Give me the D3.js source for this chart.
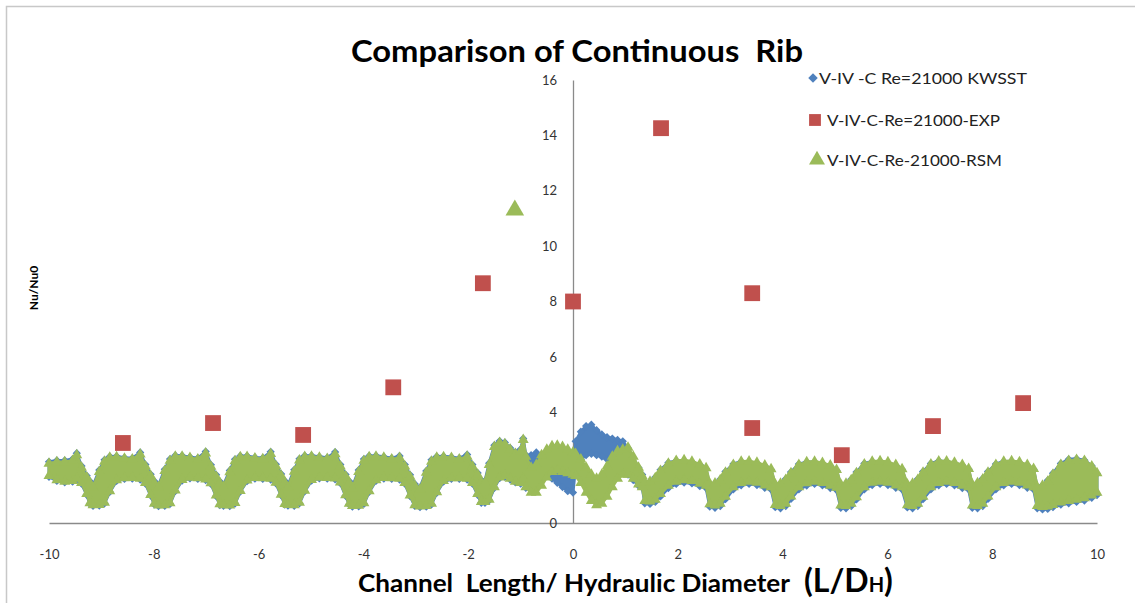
<!DOCTYPE html>
<html>
<head>
<meta charset="utf-8">
<script src="https://cdn.jsdelivr.net/npm/d3@7"></script>
<style>
  html, body { margin: 0; padding: 0; background: #ffffff; }
  svg { display: block; }
  text { white-space: pre; }
</style>
</head>
<body>
<svg id="chart" width="1135" height="603"></svg>
<script>
// ---------------- DATA ----------------
const titleText = "Comparison of Continuous  Rib";
const xTitleMain = "Channel  Length/ Hydraulic Diameter";
const yTitleText = "Nu/Nu0";
const xTicks = [-10, -8, -6, -4, -2, 0, 2, 4, 6, 8, 10];
const yTicks = [0, 2, 4, 6, 8, 10, 12, 14, 16];
const seriesNames = ["V-IV -C Re=21000 KWSST", "V-IV-C-Re=21000-EXP", "V-IV-C-Re-21000-RSM"];

// Experimental points (EXP)
const expX = [-8.59, -6.87, -5.15, -3.43, -1.72, 0.0, 1.68, 3.42, 3.42, 5.13, 6.87, 8.59];
const expY = [2.89, 3.61, 3.18, 4.90, 8.66, 8.00, 14.26, 8.30, 3.43, 2.45, 3.50, 4.33];

// RSM isolated point
const rsmExtraX = [-1.11];
const rsmExtraY = [11.30];

// CFD profiles (shared x positions); each CFD series is a band of points (lower / upper)
const cfdX = [
  -10.00, -9.85, -9.70, -9.55, -9.47, -9.38, -9.28, -9.22,
  -9.16, -9.04, -8.94, -8.84, -8.71, -8.56, -8.41, -8.26, -8.16, -8.06, -7.99,
  -7.91, -7.79, -7.69, -7.59, -7.46, -7.31, -7.16, -7.01, -6.91, -6.81, -6.74,
  -6.67, -6.55, -6.45, -6.35, -6.22, -6.07, -5.92, -5.77, -5.67, -5.57, -5.50,
  -5.44, -5.32, -5.22, -5.12, -4.99, -4.84, -4.69, -4.54, -4.44, -4.34, -4.27,
  -4.21, -4.09, -3.99, -3.89, -3.76, -3.61, -3.46, -3.31, -3.21, -3.11, -3.02,
  -2.92, -2.80, -2.70, -2.60, -2.47, -2.32, -2.17, -2.02, -1.92, -1.82, -1.75,
  -1.68, -1.60, -1.50, -1.40, -1.30, -1.20, -1.10, -1.00, -0.95, -0.90, -0.80, -0.70, -0.60, -0.50, -0.40, -0.30, -0.20, -0.10, 0.00,
  0.05, 0.15, 0.25, 0.35, 0.45, 0.55, 0.65, 0.75, 0.85, 0.95, 1.05, 1.15, 1.25, 1.32,
  1.37, 1.47, 1.57, 1.67, 1.82, 1.97, 2.12, 2.27, 2.42, 2.54,
  2.61, 2.71, 2.81, 2.91, 3.06, 3.21, 3.36, 3.51, 3.66, 3.78,
  3.86, 3.96, 4.06, 4.16, 4.31, 4.46, 4.61, 4.76, 4.91, 5.03,
  5.11, 5.21, 5.31, 5.41, 5.56, 5.71, 5.86, 6.01, 6.16, 6.28,
  6.38, 6.48, 6.58, 6.68, 6.83, 6.98, 7.13, 7.28, 7.43, 7.55,
  7.62, 7.72, 7.82, 7.92, 8.07, 8.22, 8.37, 8.52, 8.67, 8.79,
  8.86, 8.96, 9.06, 9.16, 9.31, 9.46, 9.61, 9.76, 9.90, 10.00
];

const rsmLo = [
  1.70, 1.55, 1.50, 1.52, 1.60, 1.45, 1.05, 0.72,
  0.65, 0.66, 0.74, 1.15, 1.55, 1.62, 1.63, 1.60, 1.45, 1.02, 0.70,
  0.64, 0.65, 0.72, 1.18, 1.56, 1.64, 1.62, 1.58, 1.44, 1.00, 0.68,
  0.65, 0.64, 0.73, 1.16, 1.54, 1.63, 1.62, 1.60, 1.46, 1.03, 0.69,
  0.66, 0.65, 0.74, 1.17, 1.56, 1.64, 1.63, 1.61, 1.47, 1.01, 0.70,
  0.62, 0.63, 0.72, 1.15, 1.55, 1.63, 1.62, 1.60, 1.45, 1.00, 0.65,
  0.60, 0.62, 0.70, 1.12, 1.52, 1.62, 1.62, 1.60, 1.45, 1.05, 0.76,
  0.76, 0.85, 1.30, 1.65, 1.70, 1.60, 1.50, 1.45, 1.60, 1.30, 1.10, 1.10, 1.35, 1.65, 1.85, 1.90, 1.85, 1.80, 1.75,
  1.70, 1.45, 1.10, 0.80, 0.65, 0.70, 0.95, 1.30, 1.60, 1.75, 1.75, 1.60, 1.40, 1.30,
  0.80, 0.78, 0.85, 1.05, 1.35, 1.50, 1.55, 1.52, 1.42, 1.35,
  0.68, 0.64, 0.70, 0.95, 1.30, 1.45, 1.50, 1.46, 1.36, 1.30,
  0.66, 0.62, 0.70, 0.96, 1.30, 1.44, 1.50, 1.45, 1.35, 1.28,
  0.64, 0.62, 0.70, 0.94, 1.30, 1.46, 1.50, 1.46, 1.36, 1.30,
  0.65, 0.62, 0.70, 0.95, 1.30, 1.45, 1.50, 1.45, 1.35, 1.30,
  0.64, 0.62, 0.70, 0.96, 1.30, 1.45, 1.50, 1.46, 1.36, 1.30,
  0.62, 0.58, 0.60, 0.66, 0.75, 0.80, 0.85, 0.90, 1.00, 1.10
];
const rsmHi = [
  2.15, 2.20, 2.20, 2.25, 2.45, 2.00, 1.65, 1.45,
  1.28, 1.85, 2.22, 2.36, 2.38, 2.33, 2.30, 2.48, 2.05, 1.70, 1.45,
  1.30, 1.88, 2.25, 2.40, 2.40, 2.35, 2.30, 2.52, 2.04, 1.68, 1.44,
  1.31, 1.84, 2.24, 2.38, 2.39, 2.34, 2.31, 2.50, 2.06, 1.71, 1.46,
  1.29, 1.86, 2.26, 2.39, 2.40, 2.36, 2.32, 2.49, 2.05, 1.69, 1.45,
  1.25, 1.85, 2.25, 2.38, 2.40, 2.36, 2.30, 2.35, 2.05, 1.68, 1.35,
  1.22, 1.82, 2.22, 2.36, 2.38, 2.35, 2.30, 2.40, 2.05, 1.75, 1.48,
  1.45, 2.10, 2.75, 2.90, 2.85, 2.65, 2.50, 2.60, 3.00, 2.40, 2.00, 2.10, 2.45, 2.65, 2.78, 2.80, 2.75, 2.65, 2.55,
  2.50, 2.30, 2.00, 1.75, 1.60, 1.75, 2.05, 2.40, 2.60, 2.65, 2.72, 2.40, 2.00, 1.70,
  1.48, 1.50, 1.62, 1.88, 2.15, 2.25, 2.27, 2.22, 2.12, 1.98,
  1.42, 1.43, 1.55, 1.82, 2.10, 2.22, 2.23, 2.18, 2.08, 1.95,
  1.40, 1.42, 1.56, 1.80, 2.10, 2.20, 2.22, 2.17, 2.08, 1.92,
  1.40, 1.42, 1.55, 1.80, 2.12, 2.22, 2.24, 2.20, 2.10, 1.95,
  1.40, 1.42, 1.56, 1.82, 2.12, 2.23, 2.23, 2.18, 2.10, 1.96,
  1.40, 1.44, 1.58, 1.82, 2.10, 2.22, 2.24, 2.20, 2.10, 1.96,
  1.30, 1.35, 1.50, 1.75, 2.10, 2.25, 2.28, 2.25, 2.05, 1.80
];

const kwLo = [
  1.67, 1.52, 1.47, 1.49, 1.57, 1.42, 1.02, 0.69,
  0.62, 0.63, 0.71, 1.12, 1.52, 1.59, 1.60, 1.57, 1.42, 0.99, 0.67,
  0.61, 0.62, 0.69, 1.15, 1.53, 1.61, 1.59, 1.55, 1.41, 0.97, 0.65,
  0.62, 0.61, 0.70, 1.13, 1.51, 1.60, 1.59, 1.57, 1.43, 1.00, 0.66,
  0.63, 0.62, 0.71, 1.14, 1.53, 1.61, 1.60, 1.58, 1.44, 0.98, 0.67,
  0.59, 0.60, 0.69, 1.12, 1.52, 1.60, 1.59, 1.57, 1.42, 0.97, 0.62,
  0.57, 0.59, 0.67, 1.09, 1.49, 1.59, 1.59, 1.57, 1.42, 1.02, 0.73,
  0.73, 0.82, 1.27, 1.62, 1.67, 1.57, 1.47, 1.42, 1.57, 1.27, 1.90, 2.00, 1.85, 1.70, 1.60, 1.45, 1.30, 1.15, 1.10,
  2.05, 2.30, 2.45, 2.50, 2.45, 2.40, 2.30, 2.25, 2.10, 1.95, 1.75, 1.55, 1.35, 1.28,
  0.71, 0.69, 0.76, 0.96, 1.26, 1.41, 1.46, 1.43, 1.33, 1.26,
  0.59, 0.55, 0.61, 0.86, 1.21, 1.36, 1.41, 1.37, 1.27, 1.21,
  0.57, 0.53, 0.61, 0.87, 1.21, 1.35, 1.41, 1.36, 1.26, 1.19,
  0.55, 0.53, 0.61, 0.85, 1.21, 1.37, 1.41, 1.37, 1.27, 1.21,
  0.56, 0.53, 0.61, 0.86, 1.21, 1.36, 1.41, 1.36, 1.26, 1.21,
  0.55, 0.53, 0.61, 0.87, 1.21, 1.36, 1.41, 1.37, 1.27, 1.21,
  0.53, 0.49, 0.51, 0.57, 0.66, 0.71, 0.76, 0.81, 0.91, 1.01
];
const kwHi = [
  2.21, 2.26, 2.26, 2.31, 2.52, 2.06, 1.71, 1.51,
  1.34, 1.91, 2.28, 2.40, 2.41, 2.36, 2.34, 2.55, 2.11, 1.76, 1.51,
  1.36, 1.94, 2.31, 2.44, 2.43, 2.38, 2.34, 2.58, 2.10, 1.74, 1.50,
  1.37, 1.90, 2.30, 2.42, 2.42, 2.37, 2.35, 2.57, 2.12, 1.77, 1.52,
  1.35, 1.92, 2.32, 2.43, 2.43, 2.39, 2.36, 2.56, 2.11, 1.75, 1.51,
  1.31, 1.91, 2.31, 2.42, 2.43, 2.39, 2.34, 2.42, 2.11, 1.74, 1.41,
  1.28, 1.88, 2.28, 2.40, 2.41, 2.38, 2.34, 2.47, 2.11, 1.81, 1.54,
  1.52, 2.16, 2.81, 2.96, 2.91, 2.71, 2.56, 2.66, 3.05, 2.46, 2.45, 2.55, 2.40, 2.25, 2.10, 1.95, 1.85, 1.75, 1.65,
  2.95, 3.30, 3.50, 3.55, 3.35, 3.20, 3.10, 3.05, 3.00, 2.95, 2.70, 2.35, 2.00, 1.75,
  1.45, 1.50, 1.65, 1.92, 2.18, 2.25, 2.24, 2.20, 2.10, 1.95,
  1.38, 1.43, 1.58, 1.86, 2.13, 2.22, 2.21, 2.16, 2.06, 1.92,
  1.36, 1.42, 1.59, 1.84, 2.13, 2.20, 2.20, 2.15, 2.06, 1.90,
  1.36, 1.42, 1.58, 1.84, 2.15, 2.22, 2.22, 2.18, 2.08, 1.93,
  1.36, 1.42, 1.59, 1.86, 2.15, 2.24, 2.22, 2.16, 2.08, 1.94,
  1.36, 1.44, 1.61, 1.86, 2.13, 2.22, 2.23, 2.18, 2.08, 1.94,
  1.28, 1.36, 1.54, 1.80, 2.15, 2.30, 2.32, 2.27, 2.06, 1.78
];

// ---------------- CHART ----------------
const colors = { kw: "#4F81BD", exp: "#C0504D", rsm: "#9BBB59" };
const FONT = "Lato, 'Open Sans', 'DejaVu Sans', sans-serif";

const svg = d3.select("#chart");
svg.append("rect").attr("x", 0).attr("y", 0).attr("width", 1135).attr("height", 603).attr("fill", "#ffffff");
// outer chart border
svg.append("rect").attr("x", 6.5).attr("y", 6.5).attr("width", 1200).attr("height", 700)
  .attr("fill", "none").attr("stroke", "#c8c8c8").attr("stroke-width", 1.5);

const x = d3.scaleLinear().domain([-10, 10]).range([49, 1097]);
const y = d3.scaleLinear().domain([0, 16]).range([523, 80]);

// axes
const xAxis = d3.axisBottom(x).tickValues(xTicks).tickSize(0).tickSizeOuter(0).tickPadding(27)
  .tickFormat(d => String(d));
const gx = svg.append("g").attr("transform", `translate(0,${y(0)})`).call(xAxis);
gx.select(".domain").attr("stroke", "#8a8a8a").attr("stroke-width", 1.3);
gx.selectAll("text").attr("font-family", FONT).attr("font-size", 13).attr("fill", "#333");

const yAxis = d3.axisLeft(y).tickValues(yTicks).tickSize(0).tickSizeOuter(0).tickPadding(16)
  .tickFormat(d => String(d));
const gy = svg.append("g").attr("transform", `translate(${x(0)},0)`).call(yAxis);
gy.select(".domain").attr("stroke", "#8a8a8a").attr("stroke-width", 1.3);
gy.selectAll("text").attr("font-family", FONT).attr("font-size", 13).attr("fill", "#333");

// CFD bands
const kwData = cfdX.map((v, i) => ({ x: v, lo: kwLo[i], hi: kwHi[i] }));
const rsmData = cfdX.map((v, i) => ({ x: v, lo: rsmLo[i], hi: rsmHi[i] }));

const band = d3.area().x(d => x(d.x)).y0(d => y(d.lo)).y1(d => y(d.hi));

const diamond = d3.symbol().type(d3.symbolSquare).size(34)();
const tri = d3.symbol().type(d3.symbolTriangle).size(52)();

function drawBand(data, color, path, rot) {
  const g = svg.append("g");
  g.append("path").datum(data).attr("d", band).attr("fill", color).attr("stroke", color).attr("stroke-width", 3).attr("stroke-linejoin", "round");
  const pts = [];
  data.forEach(d => { pts.push({ x: d.x, v: d.lo }); pts.push({ x: d.x, v: d.hi }); });
  g.selectAll("path.m").data(pts).enter().append("path").attr("class", "m")
    .attr("d", path)
    .attr("transform", d => `translate(${x(d.x)},${y(d.v)}) rotate(${rot})`)
    .attr("fill", color);
}
drawBand(kwData, colors.kw, diamond, 45);
drawBand(rsmData, colors.rsm, tri, 0);

// EXP squares
const sq = d3.symbol().type(d3.symbolSquare).size(250)();
svg.append("g").selectAll("path").data(expX.map((v, i) => ({ x: v, y: expY[i] }))).enter()
  .append("path").attr("d", sq)
  .attr("transform", d => `translate(${x(d.x)},${y(d.y)})`)
  .attr("fill", colors.exp);

// RSM isolated triangle
const bigTri = d3.symbol().type(d3.symbolTriangle).size(150)();
svg.append("g").selectAll("path").data(rsmExtraX.map((v, i) => ({ x: v, y: rsmExtraY[i] }))).enter()
  .append("path").attr("d", bigTri)
  .attr("transform", d => `translate(${x(d.x)},${y(d.y)})`)
  .attr("fill", colors.rsm);

// Title
svg.append("text").attr("x", 577).attr("y", 62).attr("text-anchor", "middle")
  .attr("font-family", FONT).attr("font-weight", "bold").attr("font-size", 31).attr("fill", "#000")
  .attr("textLength", 452).attr("lengthAdjust", "spacingAndGlyphs")
  .text(titleText);

// X title
const xt = svg.append("text").attr("x", 358).attr("y", 592)
  .attr("font-family", FONT).attr("font-weight", "bold").attr("fill", "#000");
xt.append("tspan").attr("font-size", 25).attr("textLength", 432).attr("lengthAdjust", "spacingAndGlyphs").text(xTitleMain);
xt.append("tspan").attr("x", 804).attr("font-size", 32).text("(L/D");
xt.append("tspan").attr("font-size", 20).text("H");
xt.append("tspan").attr("font-size", 32).text(")");

// Y title
svg.append("text").attr("transform", "translate(38,288) rotate(-90)").attr("text-anchor", "middle")
  .attr("font-family", FONT).attr("font-weight", "bold").attr("font-size", 12).attr("fill", "#000")
  .text(yTitleText);

// Legend
const legend = svg.append("g");
const legRows = [
  { name: seriesNames[0], color: colors.kw, sym: d3.symbol().type(d3.symbolSquare).size(45)(), rot: 45, y: 78, mx: 813, tx: 819, w: 208 },
  { name: seriesNames[1], color: colors.exp, sym: d3.symbol().type(d3.symbolSquare).size(140)(), rot: 0, y: 120, mx: 815, tx: 827, w: 173 },
  { name: seriesNames[2], color: colors.rsm, sym: d3.symbol().type(d3.symbolTriangle).size(110)(), rot: 0, y: 160, mx: 817, tx: 827, w: 175 }
];
legRows.forEach(r => {
  legend.append("path").attr("d", r.sym).attr("transform", `translate(${r.mx},${r.y}) rotate(${r.rot})`).attr("fill", r.color);
  legend.append("text").attr("x", r.tx).attr("y", r.y + 6)
    .attr("font-family", FONT).attr("font-size", 16).attr("fill", "#222")
    .attr("textLength", r.w).attr("lengthAdjust", "spacingAndGlyphs")
    .text(r.name);
});
</script>
</body>
</html>
